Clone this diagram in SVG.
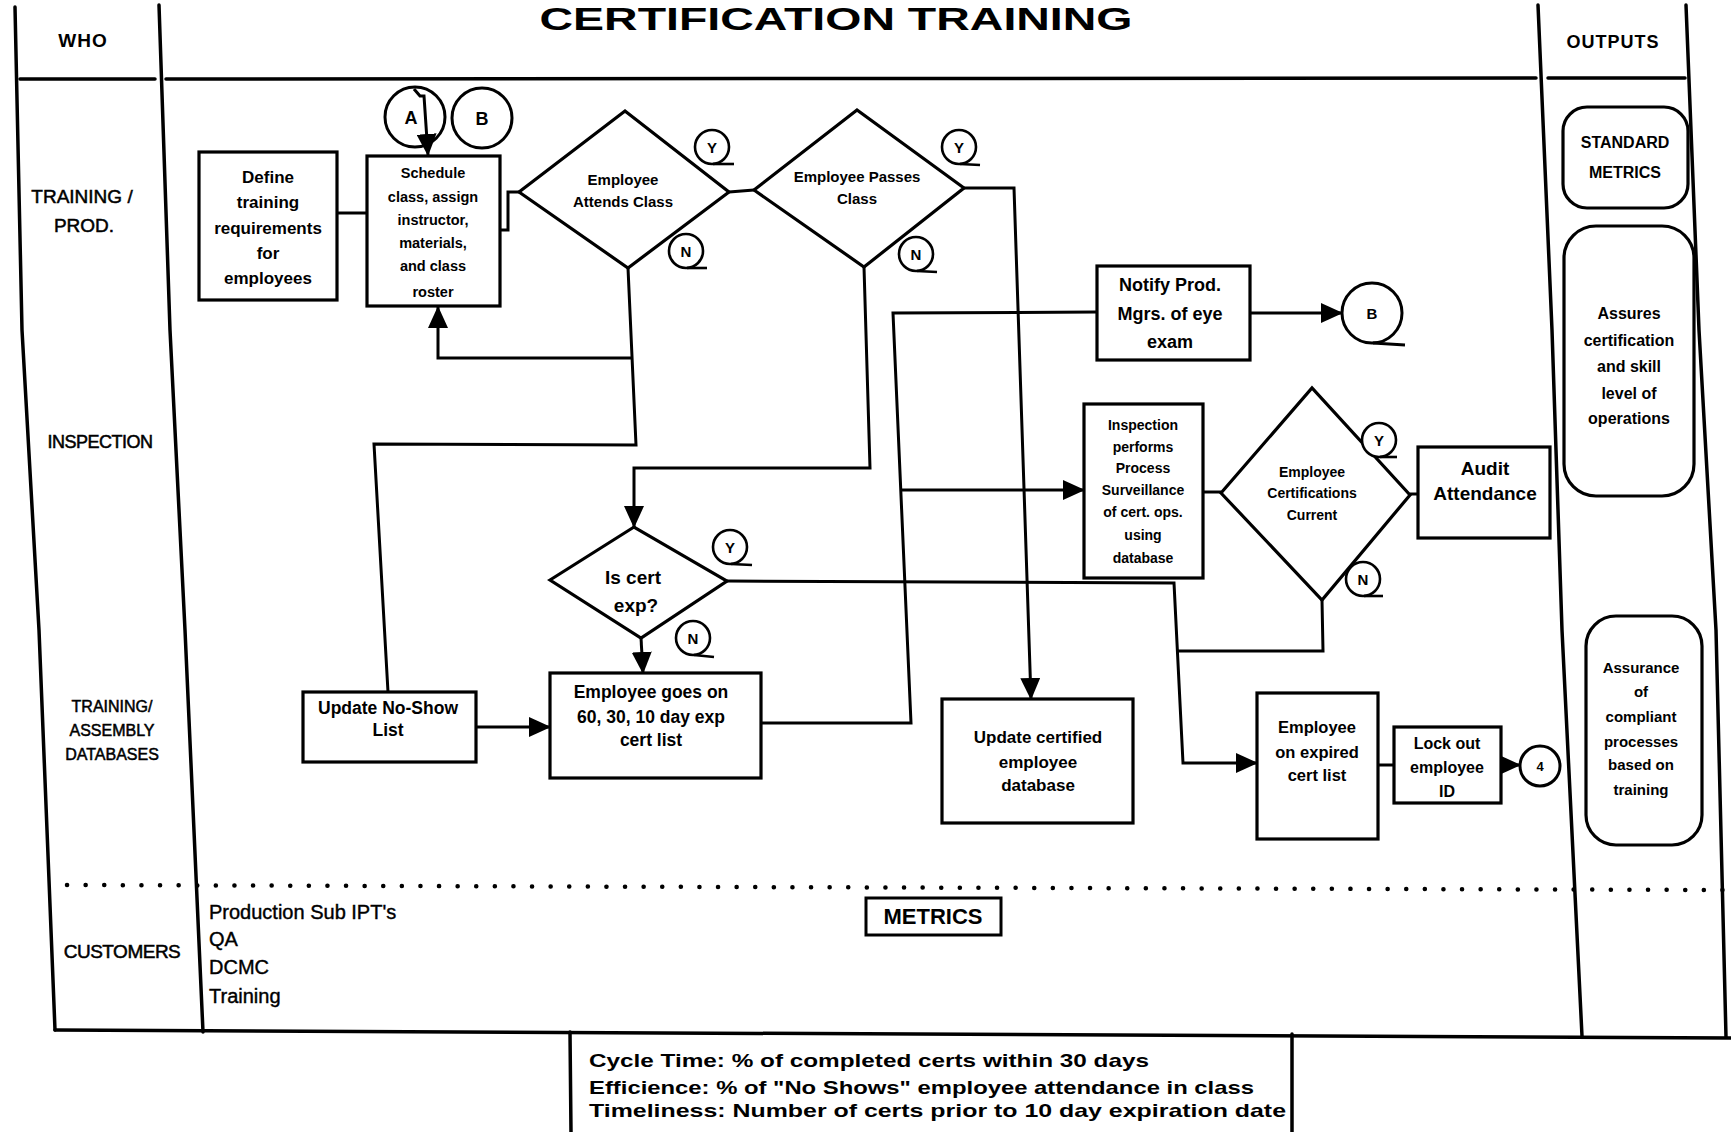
<svg xmlns="http://www.w3.org/2000/svg" width="1731" height="1132" viewBox="0 0 1731 1132">
<style>
.fr{fill:none;stroke:#000;stroke-width:3.5;stroke-linecap:round;stroke-linejoin:round}
.bx{fill:#fff;stroke:#000;stroke-width:3.2}
.rb{fill:#fff;stroke:#000;stroke-width:3.2}
.ln{fill:none;stroke:#000;stroke-width:3;stroke-linejoin:miter}
.ar{marker-end:url(#arr)}
.t{font-family:"Liberation Sans",Arial,sans-serif;font-weight:bold;fill:#000;text-anchor:middle}
.lab{font-family:"Liberation Sans",Arial,sans-serif;fill:#000;text-anchor:middle;stroke:#000;stroke-width:0.5}
.cu{font-family:"Liberation Sans",Arial,sans-serif;fill:#000;font-size:20px;stroke:#000;stroke-width:0.4}
.yn circle{fill:#fff;stroke:#000;stroke-width:2.6}
.yn path{fill:none;stroke:#000;stroke-width:2.6}
.yn text{font-family:"Liberation Sans",Arial,sans-serif;font-weight:bold;font-size:15px;text-anchor:middle}
</style>
<defs>
<marker id="arr" viewBox="0 0 22 20" refX="21" refY="10" markerWidth="22" markerHeight="20" orient="auto" markerUnits="userSpaceOnUse">
<path d="M0,0 L22,10 L0,20 z" fill="#000"/>
</marker>
</defs>
<rect width="1731" height="1132" fill="#fff"/>

<g id="frame">
<path class="fr" d="M15 7 L22 330 L39 630 L55 1030"/>
<path class="fr" d="M159 5 L170 330 L185 630 L203 1032"/>
<path class="fr" d="M1538 5 L1552 330 L1562 630 L1582 1036"/>
<path class="fr" d="M1686 5 L1699 330 L1716 630 L1726 1037"/>
<path class="fr" d="M20 79 L155 79 M166 79 L1536 78 M1548 78 L1685 78"/>
<path class="fr" d="M55 1030 L1731 1038"/>
<path d="M67 885 L1725 890" fill="none" stroke="#000" stroke-width="4.5" stroke-dasharray="0.1 18.5" stroke-linecap="round"/>
<text class="t" x="836" y="30" font-size="32" textLength="593" lengthAdjust="spacingAndGlyphs">CERTIFICATION TRAINING</text>
<text class="t" x="83" y="47" font-size="19" letter-spacing="1">WHO</text>
<text class="t" x="1613" y="48" font-size="18" letter-spacing="1">OUTPUTS</text>
<text class="lab" x="82" y="203" font-size="19">TRAINING /</text>
<text class="lab" x="84" y="232" font-size="19">PROD.</text>
<text class="lab" x="100" y="448" font-size="18" letter-spacing="-0.5">INSPECTION</text>
<text class="lab" x="112" y="712" font-size="16">TRAINING/</text>
<text class="lab" x="112" y="736" font-size="16">ASSEMBLY</text>
<text class="lab" x="112" y="760" font-size="16">DATABASES</text>
<text class="lab" x="122" y="958" font-size="19" letter-spacing="-0.5">CUSTOMERS</text>
<text class="cu" x="209" y="919">Production Sub IPT's</text>
<text class="cu" x="209" y="946">QA</text>
<text class="cu" x="209" y="974">DCMC</text>
<text class="cu" x="209" y="1003">Training</text>
</g>

<g id="connectors">
<path class="ln" d="M338 213 L366 213"/>
<path class="ln ar" d="M414 89 L420 96 L424 96 L428 155"/>
<path class="ln" d="M501 230 L508 230 L508 192 L519 192"/>
<path class="ln" d="M729 192 L754 190"/>
<path class="ln" d="M628 268 L636 445 L374 444 L388 692"/>
<path class="ln ar" d="M632 358 L438 358 L438 307"/>
<path class="ln ar" d="M864 267 L870 468 L634 468 L634 527"/>
<path class="ln ar" d="M964 188 L1014 188 L1031 699"/>
<path class="ln ar" d="M641 638 L643 673"/>
<path class="ln ar" d="M727 581 L1174 583 L1183 763 L1257 763"/>
<path class="ln ar" d="M476 727 L550 727"/>
<path class="ln" d="M761 723 L911 723 L893 313 L1097 312"/>
<path class="ln ar" d="M901 490 L1084 490"/>
<path class="ln" d="M1203 492 L1221 492"/>
<path class="ln" d="M1410 494 L1418 494"/>
<path class="ln" d="M1322 600 L1323 651 L1178 651"/>
<path class="ln ar" d="M1250 313 L1342 313"/>
<path class="ln" d="M1379 765 L1393 765"/>
<path class="ln ar" d="M1501 765 L1520 765"/>
</g>

<g id="define">
<rect class="bx" x="199" y="152" width="138" height="148"/>
<text class="t" font-size="17"><tspan x="268" y="183">Define</tspan><tspan x="268" y="208">training</tspan><tspan x="268" y="234">requirements</tspan><tspan x="268" y="259">for</tspan><tspan x="268" y="284">employees</tspan></text>
</g>
<g id="schedule">
<rect class="bx" x="367" y="156" width="133" height="150"/>
<text class="t" font-size="14.5"><tspan x="433" y="178">Schedule</tspan><tspan x="433" y="202">class, assign</tspan><tspan x="433" y="225">instructor,</tspan><tspan x="433" y="248">materials,</tspan><tspan x="433" y="271">and class</tspan><tspan x="433" y="297">roster</tspan></text>
</g>
<g id="connA">
<circle cx="415" cy="117" r="30" fill="none" stroke="#000" stroke-width="3"/>
<text class="t" x="411" y="124" font-size="18">A</text>
</g>
<g id="connB-in">
<circle cx="482" cy="118" r="30" fill="#fff" stroke="#000" stroke-width="3"/>
<text class="t" x="482" y="125" font-size="18">B</text>
</g>
<g id="d-attends">
<polygon class="bx" points="519,192 625,111 729,192 628,268"/>
<text class="t" font-size="15"><tspan x="623" y="185">Employee</tspan><tspan x="623" y="207">Attends Class</tspan></text>
</g>
<g id="d-passes">
<polygon class="bx" points="754,190 857,110 964,188 864,267"/>
<text class="t" font-size="15"><tspan x="857" y="182">Employee Passes</tspan><tspan x="857" y="204">Class</tspan></text>
</g>
<g id="d-certexp">
<polygon class="bx" points="550,580 634,527 727,581 641,638"/>
<text class="t" font-size="19"><tspan x="633" y="584">Is cert</tspan><tspan x="636" y="612">exp?</tspan></text>
</g>
<g id="noshow">
<rect class="bx" x="303" y="692" width="173" height="70"/>
<text class="t" font-size="17.5"><tspan x="388" y="714">Update No-Show</tspan><tspan x="388" y="736">List</tspan></text>
</g>
<g id="explist">
<rect class="bx" x="550" y="673" width="211" height="105"/>
<text class="t" font-size="17.5"><tspan x="651" y="698">Employee goes on</tspan><tspan x="651" y="723">60, 30, 10 day exp</tspan><tspan x="651" y="746">cert list</tspan></text>
</g>
<g id="updcert">
<rect class="bx" x="942" y="699" width="191" height="124"/>
<text class="t" font-size="17"><tspan x="1038" y="743">Update certified</tspan><tspan x="1038" y="768">employee</tspan><tspan x="1038" y="791">database</tspan></text>
</g>
<g id="notify">
<rect class="bx" x="1097" y="266" width="153" height="94"/>
<text class="t" font-size="18"><tspan x="1170" y="291">Notify Prod.</tspan><tspan x="1170" y="320">Mgrs. of eye</tspan><tspan x="1170" y="348">exam</tspan></text>
</g>
<g id="connB-out">
<circle cx="1372" cy="313" r="30" fill="#fff" stroke="#000" stroke-width="3"/>
<path d="M1373 343 L1405 345" fill="none" stroke="#000" stroke-width="3"/>
<text class="t" x="1372" y="319" font-size="15">B</text>
</g>
<g id="inspection">
<rect class="bx" x="1084" y="404" width="119" height="174"/>
<text class="t" font-size="14"><tspan x="1143" y="430">Inspection</tspan><tspan x="1143" y="452">performs</tspan><tspan x="1143" y="473">Process</tspan><tspan x="1143" y="495">Surveillance</tspan><tspan x="1143" y="517">of cert. ops.</tspan><tspan x="1143" y="540">using</tspan><tspan x="1143" y="563">database</tspan></text>
</g>
<g id="d-current">
<polygon class="bx" points="1221,493 1312,388 1410,495 1322,600"/>
<text class="t" font-size="14"><tspan x="1312" y="477">Employee</tspan><tspan x="1312" y="498">Certifications</tspan><tspan x="1312" y="520">Current</tspan></text>
</g>
<g id="audit">
<rect class="bx" x="1418" y="447" width="132" height="91"/>
<text class="t" font-size="19"><tspan x="1485" y="475">Audit</tspan><tspan x="1485" y="500">Attendance</tspan></text>
</g>
<g id="expired">
<rect class="bx" x="1257" y="693" width="121" height="146"/>
<text class="t" font-size="16.5"><tspan x="1317" y="733">Employee</tspan><tspan x="1317" y="758">on expired</tspan><tspan x="1317" y="781">cert list</tspan></text>
</g>
<g id="lockout">
<rect class="bx" x="1394" y="727" width="107" height="76"/>
<text class="t" font-size="16"><tspan x="1447" y="749">Lock out</tspan><tspan x="1447" y="773">employee</tspan><tspan x="1447" y="797">ID</tspan></text>
</g>
<g id="conn4">
<circle cx="1540" cy="766" r="20" fill="#fff" stroke="#000" stroke-width="3"/>
<text class="t" x="1540" y="771" font-size="13">4</text>
</g>

<g class="yn" id="yn-attends-y"><circle cx="712" cy="147" r="17"/><path d="M713 164 L734 164"/><text x="712" y="153">Y</text></g>
<g class="yn" id="yn-attends-n"><circle cx="686" cy="251" r="17"/><path d="M687 268 L707 268"/><text x="686" y="257">N</text></g>
<g class="yn" id="yn-passes-y"><circle cx="959" cy="147" r="17"/><path d="M960 164 L980 165"/><text x="959" y="153">Y</text></g>
<g class="yn" id="yn-passes-n"><circle cx="916" cy="254" r="17"/><path d="M917 271 L937 272"/><text x="916" y="260">N</text></g>
<g class="yn" id="yn-exp-y"><circle cx="730" cy="547" r="17"/><path d="M731 564 L752 565"/><text x="730" y="553">Y</text></g>
<g class="yn" id="yn-exp-n"><circle cx="693" cy="638" r="17"/><path d="M694 655 L714 657"/><text x="693" y="644">N</text></g>
<g class="yn" id="yn-cur-y"><circle cx="1379" cy="440" r="17"/><path d="M1380 457 L1397 457"/><text x="1379" y="446">Y</text></g>
<g class="yn" id="yn-cur-n"><circle cx="1363" cy="579" r="17"/><path d="M1364 596 L1383 596"/><text x="1363" y="585">N</text></g>

<g id="out-std">
<rect class="rb" x="1563" y="107" width="125" height="101" rx="24"/>
<text class="t" font-size="16"><tspan x="1625" y="148">STANDARD</tspan><tspan x="1625" y="178">METRICS</tspan></text>
</g>
<g id="out-assures">
<rect class="rb" x="1564" y="226" width="130" height="270" rx="32"/>
<text class="t" font-size="16"><tspan x="1629" y="319">Assures</tspan><tspan x="1629" y="346">certification</tspan><tspan x="1629" y="372">and skill</tspan><tspan x="1629" y="399">level of</tspan><tspan x="1629" y="424">operations</tspan></text>
</g>
<g id="out-assurance">
<rect class="rb" x="1586" y="616" width="116" height="229" rx="30"/>
<text class="t" font-size="15"><tspan x="1641" y="673">Assurance</tspan><tspan x="1641" y="697">of</tspan><tspan x="1641" y="722">compliant</tspan><tspan x="1641" y="747">processes</tspan><tspan x="1641" y="770">based on</tspan><tspan x="1641" y="795">training</tspan></text>
</g>

<g id="metrics-label">
<rect x="866" y="898" width="135" height="37" fill="#fff" stroke="#000" stroke-width="3"/>
<text class="t" x="933" y="924" font-size="22">METRICS</text>
</g>
<g id="metrics-box">
<path class="fr" d="M570 1032 L571 1132 M1292 1034 L1292 1132"/>
<text font-family="Liberation Sans, Arial, sans-serif" font-weight="bold" font-size="19" fill="#000">
<tspan x="589" y="1067" textLength="560" lengthAdjust="spacingAndGlyphs">Cycle Time:  % of completed certs within 30 days</tspan>
<tspan x="589" y="1094" textLength="665" lengthAdjust="spacingAndGlyphs">Efficience:  % of "No Shows" employee attendance in class</tspan>
<tspan x="589" y="1117" textLength="697" lengthAdjust="spacingAndGlyphs">Timeliness:  Number of certs prior to 10 day expiration date</tspan>
</text>
</g>
</svg>
